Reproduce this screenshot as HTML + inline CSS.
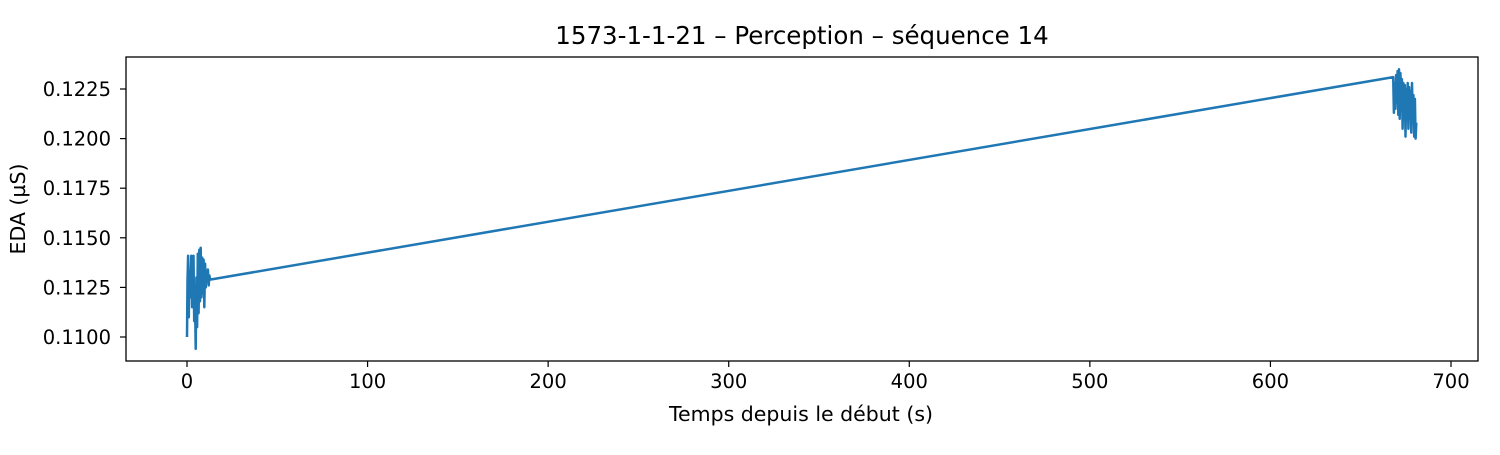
<!DOCTYPE html>
<html><head><meta charset="utf-8">
<style>
body{margin:0;background:#fff;}
svg text{font-family:"DejaVu Sans","Liberation Sans",sans-serif;fill:#000;}
</style></head>
<body>
<svg id="chart" width="1500" height="450">
<rect x="0" y="0" width="1500" height="450" fill="#fff"/>
<text x="802" y="44" font-size="24.5" text-anchor="middle">1573-1-1-21 – Perception – séquence 14</text>
<g id="xt"></g>
<g id="yt"></g>
<path id="line" fill="none" stroke="#1f77b4" stroke-width="2.5" stroke-linejoin="round"/>
<rect x="126" y="57" width="1352" height="304" fill="none" stroke="#000" stroke-width="1.3"/>
<text x="801" y="421" font-size="20.5" text-anchor="middle">Temps depuis le début (s)</text>
<text transform="translate(25,209) rotate(-90)" font-size="20.5" text-anchor="middle">EDA (µS)</text>
</svg>
<script>
const xTicks=[0,100,200,300,400,500,600,700];
const yTicks=[0.1100,0.1125,0.1150,0.1175,0.1200,0.1225];
const times=[0,0.3,0.6,1,1.3,1.6,2,2.4,2.8,3.2,3.6,4,4.4,4.8,5.2,5.6,6,6.4,6.8,7.2,7.6,8,8.4,8.8,9.2,9.6,10,10.4,10.8,11.2,11.6,12,12.4,12.8,13.2,
668,668.4,668.8,669.2,669.6,670,670.4,670.8,671.2,671.6,672,672.4,672.8,673.2,673.6,674,674.4,674.8,675.2,675.6,676,676.4,676.8,677.2,677.6,678,678.4,678.8,679.2,679.6,680,680.4,680.8];
const eda=[0.1100,0.1128,0.1141,0.1110,0.1133,0.1120,0.1130,0.1141,0.1115,0.1132,0.1141,0.1108,0.1125,0.1094,0.1130,0.1105,0.1142,0.1112,0.1144,0.1118,0.1145,0.1120,0.1140,0.1122,0.1139,0.1115,0.1137,0.1125,0.1133,0.1128,0.1134,0.1126,0.1131,0.1129,0.1129,
0.1231,0.1213,0.1228,0.1215,0.1232,0.1218,0.1234,0.1212,0.1235,0.1210,0.1233,0.1222,0.1230,0.1205,0.1228,0.1215,0.1227,0.1201,0.1225,0.1210,0.1228,0.1205,0.1226,0.1212,0.1224,0.1203,0.1228,0.1210,0.1222,0.1201,0.1220,0.1200,0.1208];
const X=t=>187+t*(1451-187)/700;
const Y=v=>337-(v-0.11)/0.0125*(337-89);
const NS='http://www.w3.org/2000/svg';
const xg=document.getElementById('xt'),yg=document.getElementById('yt');
xTicks.forEach(t=>{
 const l=document.createElementNS(NS,'line');
 
 
 l.setAttribute('x1',X(t));l.setAttribute('x2',X(t));l.setAttribute('y1',361);l.setAttribute('y2',367);l.setAttribute('stroke','#000');l.setAttribute('stroke-width','1.2');
 xg.appendChild(l);
 const s=document.createElementNS(NS,'text');
 
 
 s.setAttribute('x',X(t));s.setAttribute('y',388);s.setAttribute('font-size','19.5');s.setAttribute('text-anchor','middle');s.textContent=t;
 xg.appendChild(s);
});
yTicks.forEach(v=>{
 const l=document.createElementNS(NS,'line');
 
 
 l.setAttribute('x1',120);l.setAttribute('x2',126);l.setAttribute('y1',Y(v));l.setAttribute('y2',Y(v));l.setAttribute('stroke','#000');l.setAttribute('stroke-width','1.2');
 yg.appendChild(l);
 const s=document.createElementNS(NS,'text');
 
 
 s.setAttribute('x',111);s.setAttribute('y',Y(v)+7);s.setAttribute('font-size','19.5');s.setAttribute('text-anchor','end');s.textContent=v.toFixed(4);
 yg.appendChild(s);
});
document.getElementById('line').setAttribute('d',times.map((t,i)=>(i?'L':'M')+X(t).toFixed(1)+' '+Y(eda[i]).toFixed(1)).join(' '));
</script>
</body></html>
